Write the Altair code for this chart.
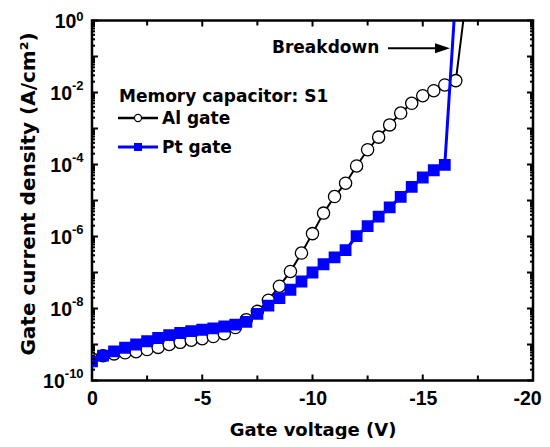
import altair as alt
import pandas as pd

# ---------------- data ----------------
voltage = [0, -0.5, -1, -1.5, -2, -2.5, -3, -3.5, -4, -4.5, -5, -5.5, -6, -6.5, -7, -7.5,
           -8, -8.5, -9, -9.5, -10, -10.5, -11, -11.5, -12, -12.5, -13, -13.5, -14, -14.5,
           -15, -15.5, -16, -16.5]
al_log_j = [-9.40, -9.31, -9.26, -9.23, -9.20, -9.14, -9.08, -9.00, -8.94, -8.88, -8.84,
            -8.78, -8.70, -8.53, -8.31, -8.08, -7.77, -7.38, -6.97, -6.46, -5.92, -5.35,
            -4.89, -4.52, -4.04, -3.59, -3.24, -2.90, -2.57, -2.30, -2.09, -1.95, -1.79, -1.67]
pt_log_j = [-9.47, -9.31, -9.19, -9.09, -9.00, -8.91, -8.82, -8.74, -8.68, -8.63, -8.59,
            -8.55, -8.50, -8.45, -8.37, -8.15, -7.92, -7.71, -7.48, -7.25, -7.00, -6.77,
            -6.58, -6.38, -5.99, -5.71, -5.45, -5.19, -4.90, -4.62, -4.36, -4.16, -4.01]
al_breakdown = (-16.84, 0.0)   # (V, log10 J) end of breakdown line
pt_breakdown = (-16.42, 0.0)

x_major = [0, -5, -10, -15, -20]
x_minor = [-2.5, -7.5, -12.5, -17.5]
y_label_exp = [0, -2, -4, -6, -8, -10]

# ---------------- tables ----------------
al_pts = pd.DataFrame({"v": voltage, "j": [10 ** k for k in al_log_j]})
pt_pts = pd.DataFrame({"v": voltage[:len(pt_log_j)], "j": [10 ** k for k in pt_log_j]})
al_line = pd.concat([al_pts, pd.DataFrame({"v": [al_breakdown[0]], "j": [10 ** al_breakdown[1]]})],
                    ignore_index=True)
pt_line = pd.concat([pt_pts, pd.DataFrame({"v": [pt_breakdown[0]], "j": [10 ** pt_breakdown[1]]})],
                    ignore_index=True)
al_line["o"] = range(len(al_line))
pt_line["o"] = range(len(pt_line))

y_major = pd.DataFrame({"j": [10.0 ** k for k in range(0, -11, -1)]})
y_minor = pd.DataFrame({"j": [m * 10.0 ** k for k in range(-10, 0) for m in range(2, 10)]})
xt_major = pd.DataFrame({"v": x_major})
xt_minor = pd.DataFrame({"v": x_minor})

W, H = 441, 360
FONT = "DejaVu Sans"
LFONT = "Liberation Sans"
BLUE = "#0000FF"

x_axis = alt.Axis(values=x_major, labelExpr="datum.value == 0 ? '0' : '-' + abs(datum.value)",
                  domain=False, ticks=False, grid=False, labelFont=LFONT, labelFontWeight="bold",
                  labelFontSize=19.5, labelColor="black", labelPadding=9, labelFlush=False,
                  labelOverlap=False,
                  labelOffset=alt.condition("datum.value == -20", alt.value(-6), alt.value(0)),
                  title="Gate voltage (V)", titleFont=FONT, titleFontWeight="bold",
                  titleFontSize=18, titleColor="black", titleBaseline="alphabetic", titleY=54.5)
y_axis = alt.Axis(values=[10.0 ** e for e in y_label_exp], labels=False,
                  domain=False, ticks=False, grid=False,
                  title="Gate current density (A/cm²)", titleFont=FONT, titleFontWeight="bold",
                  titleFontSize=20, titleColor="black", titleX=-64, titleY=173,
                  titleAlign="center", titleBaseline="middle", titleAngle=-90)

xs = alt.Scale(domain=[-20, 0], reverse=True, nice=False, zero=False)
ys = alt.Scale(type="log", domain=[1e-10, 1], nice=False)
X = alt.X("v:Q", scale=xs, axis=x_axis)
Y = alt.Y("j:Q", scale=ys, axis=y_axis)

layers = []
# data
layers.append(alt.Chart(al_line).mark_line(color="black", strokeWidth=2, clip=True)
              .encode(x=X, y=Y, order="o:Q"))
layers.append(alt.Chart(al_pts).mark_point(shape="circle", size=150, filled=True, fill="white",
                                           stroke="black", strokeWidth=1.3, opacity=1, clip=True)
              .encode(x=X, y=Y))
layers.append(alt.Chart(pt_line).mark_line(color=BLUE, strokeWidth=3, clip=True)
              .encode(x=X, y=Y, order="o:Q"))
layers.append(alt.Chart(pt_pts).mark_point(shape="square", size=140, filled=True, color=BLUE,
                                           opacity=1, clip=True)
              .encode(x=X, y=Y))

# inward ticks on all four sides
for df, ln in ((xt_major, 6), (xt_minor, 5)):
    layers.append(alt.Chart(df).mark_rule(color="black", strokeWidth=2)
                  .encode(x=X, y=alt.value(H), y2=alt.value(H - ln)))
    layers.append(alt.Chart(df).mark_rule(color="black", strokeWidth=2)
                  .encode(x=X, y=alt.value(0), y2=alt.value(ln)))
for df, ln in ((y_major, 6), (y_minor, 3)):
    layers.append(alt.Chart(df).mark_rule(color="black", strokeWidth=2)
                  .encode(y=Y, x=alt.value(0), x2=alt.value(ln)))
    layers.append(alt.Chart(df).mark_rule(color="black", strokeWidth=2)
                  .encode(y=Y, x=alt.value(W), x2=alt.value(W - ln)))

# y tick labels: "10" with a raised exponent
EXP_SIZE = 13
for e in y_label_exp:
    s = str(e)
    w = (0.556 * len(s.replace("-", "")) + (0.333 if s.startswith("-") else 0)) * EXP_SIZE
    d = pd.DataFrame({"j": [10.0 ** e]})
    layers.append(alt.Chart(d).mark_text(text=s, font=LFONT, fontWeight="bold", fontSize=EXP_SIZE,
                                         color="black", align="right", baseline="alphabetic",
                                         dy=(0.5 if e == 0 else -3))
                  .encode(y=Y, x=alt.value(-8.4)))
    layers.append(alt.Chart(d).mark_text(text="10", font=LFONT, fontWeight="bold", fontSize=19.5,
                                         color="black", align="right", baseline="alphabetic",
                                         dy=7.5)
                  .encode(y=Y, x=alt.value(-8.4 - w)))

one = pd.DataFrame({"a": [0]})


def txt(s, x, y, size=17):
    return alt.Chart(one).mark_text(text=s, font=FONT, fontWeight="bold", fontSize=size,
                                    color="black", align="left", baseline="alphabetic").encode(
        x=alt.value(x), y=alt.value(y))


# legend
layers.append(txt("Memory capacitor: S1", 27, 81))
layers.append(alt.Chart(one).mark_rule(color="black", strokeWidth=2.5)
              .encode(x=alt.value(26), x2=alt.value(66), y=alt.value(97.5)))
layers.append(alt.Chart(one).mark_point(shape="circle", size=50, filled=True, fill="white",
                                        stroke="black", strokeWidth=1.2, opacity=1)
              .encode(x=alt.value(46), y=alt.value(97.5)))
layers.append(txt("Al gate", 70, 103.5))
layers.append(alt.Chart(one).mark_rule(color=BLUE, strokeWidth=3)
              .encode(x=alt.value(26), x2=alt.value(66), y=alt.value(126.5)))
layers.append(alt.Chart(one).mark_point(shape="square", size=64, filled=True, color=BLUE, opacity=1)
              .encode(x=alt.value(46), y=alt.value(126.5)))
layers.append(txt("Pt gate", 70, 132.5))

# breakdown annotation
layers.append(txt("Breakdown", 180, 32))
layers.append(alt.Chart(one).mark_rule(color="black", strokeWidth=2)
              .encode(x=alt.value(296), x2=alt.value(346), y=alt.value(27.8)))
layers.append(alt.Chart(one).mark_point(shape="M0,0 L-1.5,-0.5 L-1.5,0.5 Z", size=400, filled=True,
                                        color="black", opacity=1)
              .encode(x=alt.value(358), y=alt.value(27.8)))

chart = alt.layer(*layers).properties(
    width=W, height=H, autosize="none",
    padding={"left": 84, "top": 12.5, "right": 9, "bottom": 58},
).configure_view(stroke="black", strokeWidth=2.5)

chart.save("out.html", embed_options={"renderer": "svg", "actions": False})
